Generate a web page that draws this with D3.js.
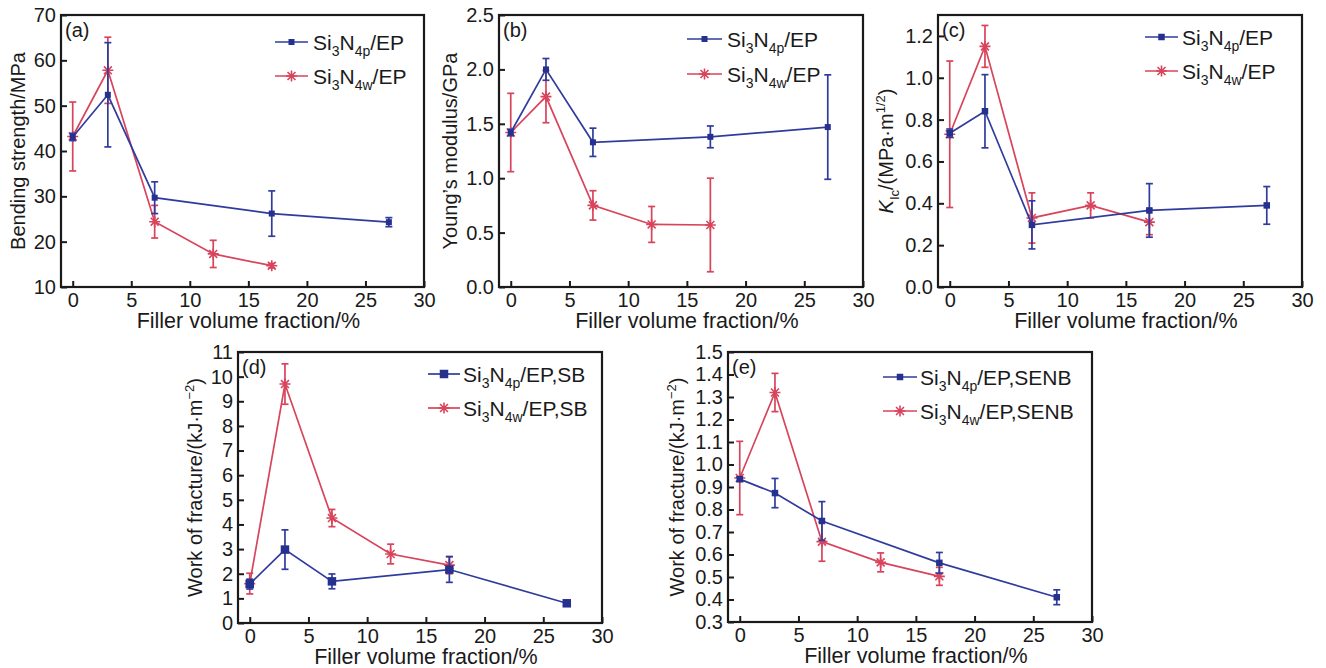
<!DOCTYPE html>
<html>
<head>
<meta charset="utf-8">
<script src="https://cdn.jsdelivr.net/npm/d3@7"></script>
<style>
  body { margin: 0; background: #fff; }
  svg text { font-family: "Liberation Sans", Arial, sans-serif; fill: #1a1a1a; }
</style>
</head>
<body>
<svg id="chart" width="1326" height="668"></svg>
<script>
// filler fractions (%)
const xP = [0, 3, 7, 17, 27];
const xW = [0, 3, 7, 12, 17];
const xTicks = [0, 5, 10, 15, 20, 25, 30];

// (a) bending strength, MPa
const bendP = [43.1, 52.4, 29.7, 26.2, 24.3];
const bendPErr = [0.8, 11.5, 3.5, 5.0, 1.0];
const bendW = [43.2, 57.8, 24.4, 17.3, 14.7];
const bendWErr = [7.6, 7.3, 3.6, 3.0, 0.5];

// (b) Young's modulus, GPa
const modP = [1.42, 2.0, 1.33, 1.38, 1.47];
const modPErr = [0.03, 0.1, 0.13, 0.1, 0.48];
const modW = [1.42, 1.75, 0.75, 0.575, 0.57];
const modWErr = [0.36, 0.24, 0.135, 0.165, 0.43];

// (c) KIc, MPa·m^1/2
const kicP = [0.735, 0.84, 0.297, 0.366, 0.39];
const kicPErr = [0.02, 0.175, 0.115, 0.128, 0.09];
const kicW = [0.73, 1.15, 0.33, 0.39, 0.31];
const kicWErr = [0.35, 0.1, 0.12, 0.06, 0.06];

// (d) work of fracture SB, kJ·m^-2
const sbP = [1.58, 2.98, 1.69, 2.17, 0.8];
const sbPErr = [0.2, 0.8, 0.3, 0.52, 0.1];
const sbW = [1.6, 9.7, 4.26, 2.8, 2.35];
const sbWErr = [0.42, 0.82, 0.35, 0.4, 0.35];

// (e) work of fracture SENB, kJ·m^-2
const senbP = [0.935, 0.873, 0.749, 0.563, 0.41];
const senbPErr = [0.01, 0.065, 0.086, 0.046, 0.033];
const senbW = [0.94, 1.32, 0.657, 0.565, 0.503];
const senbWErr = [0.163, 0.085, 0.087, 0.042, 0.04];

const blue = "#2f3c9e", red = "#d8445b";
const svg = d3.select("#chart");

const panels = [
  { tag: "(a)", left: 61, top: 15, w: 363, h: 272, yDom: [10, 70], yTicks: d3.range(10, 71, 10), fmt: d3.format("d"),
    yLabel: [{t: "Bending strength/MPa"}], yLabOff: 43,
    p: bendP, pe: bendPErr, w_: bendW, we: bendWErr, sq: 6,
    leg: { x1: 214, x2: 247, tx: 252, y1: 27, y2: 61 }, legSuffix: "/EP" },
  { tag: "(b)", left: 499, top: 15, w: 364, h: 272, yDom: [0, 2.5], yTicks: d3.range(0, 2.51, 0.5), fmt: d3.format(".1f"),
    yLabel: [{t: "Young\u2019s modulus/GPa"}], yLabOff: 49,
    p: modP, pe: modPErr, w_: modW, we: modWErr, sq: 6,
    leg: { x1: 188, x2: 223, tx: 228, y1: 24, y2: 59 }, legSuffix: "/EP" },
  { tag: "(c)", left: 938, top: 15, w: 364, h: 272, yDom: [0, 1.3], yTicks: d3.range(0, 1.21, 0.2), fmt: d3.format(".1f"),
    yLabel: [{t: "K", it: true}, {t: "Ic", sub: true}, {t: "/(MPa\u00b7m"}, {t: "1/2", sup: true}, {t: ")"}], yLabOff: 52,
    p: kicP, pe: kicPErr, w_: kicW, we: kicWErr, sq: 6.5,
    leg: { x1: 207, x2: 240, tx: 244, y1: 22, y2: 56 }, legSuffix: "/EP" },
  { tag: "(d)", left: 238, top: 352, w: 364, h: 271, yDom: [0, 11], yTicks: d3.range(0, 11.1, 1), fmt: d3.format("d"),
    yLabel: [{t: "Work of fracture/(kJ\u00b7m"}, {t: "\u22122", sup: true}, {t: ")"}], yLabOff: 43,
    p: sbP, pe: sbPErr, w_: sbW, we: sbWErr, sq: 8.5,
    leg: { x1: 190, x2: 222, tx: 225, y1: 22, y2: 56 }, legSuffix: "/EP,SB" },
  { tag: "(e)", left: 728, top: 352, w: 364, h: 270, yDom: [0.3, 1.5], yTicks: d3.range(0.3, 1.51, 0.1), fmt: d3.format(".1f"),
    yLabel: [{t: "Work of fracture/(kJ\u00b7m"}, {t: "\u22122", sup: true}, {t: ")"}], yLabOff: 51,
    p: senbP, pe: senbPErr, w_: senbW, we: senbWErr, sq: 6.5,
    leg: { x1: 155, x2: 189, tx: 192, y1: 25, y2: 59 }, legSuffix: "/EP,SENB" }
];

function asterisk(r) {
  const d = r * 0.72;
  return `M${-r},0L${r},0M0,${-r}L0,${r}M${-d},${-d}L${d},${d}M${-d},${d}L${d},${-d}`;
}

function drawSeries(g, x, y, xs, vs, es, color, kind, sq) {
  const line = d3.line().x((d, i) => x(xs[i])).y(d => y(d));
  g.append("path").attr("d", line(vs)).attr("fill", "none")
    .attr("stroke", color).attr("stroke-width", 1.7);
  vs.forEach((v, i) => {
    const cx = x(xs[i]);
    const y0 = y(v - es[i]), y1 = y(v + es[i]);
    g.append("line").attr("x1", cx).attr("x2", cx).attr("y1", y0).attr("y2", y1)
      .attr("stroke", color).attr("stroke-width", 1.7);
    [y0, y1].forEach(yy => g.append("line").attr("x1", cx - 3.5).attr("x2", cx + 3.5)
      .attr("y1", yy).attr("y2", yy).attr("stroke", color).attr("stroke-width", 1.7));
  });
  vs.forEach((v, i) => {
    const cx = x(xs[i]), cy = y(v);
    if (kind === "sq") {
      g.append("rect").attr("x", cx - sq / 2).attr("y", cy - sq / 2)
        .attr("width", sq).attr("height", sq).attr("fill", "#26308f");
    } else {
      g.append("path").attr("d", asterisk(5.5)).attr("transform", `translate(${cx},${cy})`)
        .attr("stroke", color).attr("stroke-width", 1.6).attr("fill", "none");
    }
  });
}

function legendText(g, tx, ty, sub, suffix) {
  const t = g.append("text").attr("x", tx).attr("y", ty).attr("font-size", 21);
  t.append("tspan").text("Si");
  t.append("tspan").attr("font-size", 14).attr("dy", 6).text("3");
  t.append("tspan").attr("dy", -6).text("N");
  t.append("tspan").attr("font-size", 14).attr("dy", 6).text(sub);
  t.append("tspan").attr("dy", -6).text(suffix);
}

panels.forEach(P => {
  const g = svg.append("g").attr("transform", `translate(${P.left},${P.top})`);
  const x = d3.scaleLinear().domain([-1, 30]).range([0, P.w]);
  const y = d3.scaleLinear().domain(P.yDom).range([P.h, 0]);

  // inward ticks
  const xa = g.append("g").attr("transform", `translate(0,${P.h})`)
    .call(d3.axisBottom(x).tickValues(xTicks).tickSize(-6).tickPadding(6).tickFormat(d3.format("d")));
  const ya = g.append("g")
    .call(d3.axisLeft(y).tickValues(P.yTicks).tickSize(-6).tickPadding(5).tickFormat(P.fmt));
  [xa, ya].forEach(a => {
    a.select(".domain").remove();
    a.selectAll(".tick line").attr("stroke", "#1a1a1a").attr("stroke-width", 2);
    a.selectAll(".tick text").attr("font-size", 20).attr("font-family", "Liberation Sans, Arial, sans-serif").attr("fill", "#1a1a1a");
  });

  g.append("rect").attr("width", P.w).attr("height", P.h)
    .attr("fill", "none").attr("stroke", "#1a1a1a").attr("stroke-width", 2.2);

  g.append("text").attr("x", 4).attr("y", 22).attr("font-size", 20).text(P.tag);

  drawSeries(g, x, y, xW, P.w_, P.we, red, "ast", P.sq);
  drawSeries(g, x, y, xP, P.p, P.pe, blue, "sq", P.sq);

  // legend
  const L = P.leg;
  [[L.y1, blue, "sq", "4p"], [L.y2, red, "ast", "4w"]].forEach(([ly, c, k, sub]) => {
    g.append("line").attr("x1", L.x1).attr("x2", L.x2).attr("y1", ly).attr("y2", ly)
      .attr("stroke", c).attr("stroke-width", 1.7);
    const mx = (L.x1 + L.x2) / 2;
    if (k === "sq") {
      g.append("rect").attr("x", mx - P.sq / 2).attr("y", ly - P.sq / 2)
        .attr("width", P.sq).attr("height", P.sq).attr("fill", "#26308f");
    } else {
      g.append("path").attr("d", asterisk(5.5)).attr("transform", `translate(${mx},${ly})`)
        .attr("stroke", c).attr("stroke-width", 1.6).attr("fill", "none");
    }
    legendText(g, L.tx, ly + 7.5, sub, P.legSuffix);
  });

  // x label
  g.append("text").attr("x", x(15)).attr("y", P.h + 41).attr("text-anchor", "middle")
    .attr("font-size", 21.5).text("Filler volume fraction/%");

  // y label
  const yl = g.append("text").attr("transform", `translate(${-P.yLabOff + 7},${P.h / 2}) rotate(-90)`)
    .attr("text-anchor", "middle").attr("font-size", 20);
  let shift = 0;
  P.yLabel.forEach(part => {
    const s = yl.append("tspan").text(part.t);
    if (part.it) s.attr("font-style", "italic");
    if (part.sub) { s.attr("font-size", 13).attr("dy", 6 - shift); shift = 6; }
    else if (part.sup) { s.attr("font-size", 13).attr("dy", -8 - shift); shift = -8; }
    else if (shift !== 0) { s.attr("dy", -shift); shift = 0; }
  });
});
</script>
</body>
</html>
